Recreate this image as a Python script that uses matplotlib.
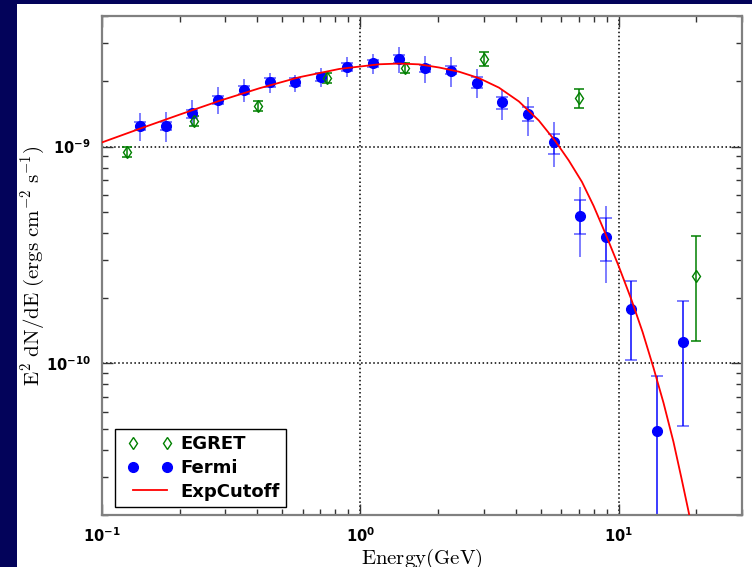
import numpy as np
import matplotlib
matplotlib.use("Agg")
import matplotlib.pyplot as plt
from matplotlib.patches import Rectangle
from matplotlib.lines import Line2D
from matplotlib.legend_handler import HandlerLine2D
from matplotlib.ticker import FuncFormatter, LogLocator, NullFormatter

# Fermi points (GeV, erg cm^-2 s^-1)
fermi_e = [0.141, 0.178, 0.224, 0.282, 0.355, 0.447, 0.562, 0.708, 0.891, 1.12, 1.41,
           1.78, 2.24, 2.82, 3.55, 4.47, 5.62, 7.08, 8.91, 11.2, 14.1, 17.8]
fermi_f = [1.244e-9, 1.244e-9, 1.422e-9, 1.640e-9, 1.824e-9, 1.977e-9, 1.990e-9, 2.099e-9,
           2.334e-9, 2.421e-9, 2.524e-9, 2.296e-9, 2.240e-9, 1.968e-9, 1.610e-9, 1.413e-9,
           1.047e-9, 4.786e-10, 3.846e-10, 1.791e-10, 4.89e-11, 1.253e-10]
stat_lo = [1.19e-9, 1.19e-9, 1.36e-9, 1.57e-9, 1.75e-9, 1.89e-9, 1.91e-9, 2.01e-9,
           2.24e-9, 2.32e-9, 2.42e-9, 2.20e-9, 2.15e-9, 1.858e-9, 1.490e-9, 1.312e-9,
           9.246e-10, 3.95e-10, 2.98e-10, 1.04e-10, 1e-11, 5.15e-11]
stat_hi = [1.30e-9, 1.30e-9, 1.48e-9, 1.71e-9, 1.90e-9, 2.06e-9, 2.08e-9, 2.19e-9,
           2.43e-9, 2.52e-9, 2.63e-9, 2.39e-9, 2.34e-9, 2.084e-9, 1.698e-9, 1.527e-9,
           1.140e-9, 5.64e-10, 4.70e-10, 2.393e-10, 8.77e-11, 1.93e-10]
tot_lo = [1.061e-9, 1.054e-9, 1.244e-9, 1.408e-9, 1.610e-9, 1.762e-9, 1.790e-9, 1.889e-9,
          2.084e-9, 2.161e-9, 2.191e-9, 1.959e-9, 1.889e-9, 1.671e-9, 1.327e-9, 1.119e-9,
          8.03e-10, 3.08e-10, 2.36e-10, 1.04e-10, 1e-11, 5.15e-11]
tot_hi = [1.432e-9, 1.449e-9, 1.640e-9, 1.889e-9, 2.043e-9, 2.176e-9, 2.138e-9, 2.296e-9,
          2.580e-9, 2.675e-9, 2.884e-9, 2.624e-9, 2.595e-9, 2.272e-9, 1.824e-9, 1.698e-9,
          1.303e-9, 6.49e-10, 5.32e-10, 2.393e-10, 8.77e-11, 1.93e-10]

# EGRET points
egret_e = [0.1253, 0.227, 0.404, 0.741, 1.49, 3.01, 7.0, 20.0]
egret_f = [9.47e-10, 1.312e-9, 1.538e-9, 2.081e-9, 2.296e-9, 2.524e-9, 1.671e-9, 2.541e-10]
egret_lo = [8.98e-10, 1.245e-9, 1.459e-9, 1.974e-9, 2.176e-9, 2.35e-9, 1.51e-9, 1.267e-10]
egret_hi = [9.98e-10, 1.383e-9, 1.621e-9, 2.193e-9, 2.42e-9, 2.73e-9, 1.836e-9, 3.85e-10]

# ExpCutoff curve
model_e = [0.1, 0.1405, 0.2005, 0.286, 0.408, 0.5821, 0.8306, 1.185, 1.415, 1.69, 2.02,
           2.412, 2.881, 3.441, 4.11, 4.909, 5.693, 6.41, 7.211, 8.002, 8.879, 9.991,
           11.21, 12.37, 13.64, 14.91, 16.29, 17.48, 18.61, 19.81]
model_f = [1.044e-9, 1.209e-9, 1.405e-9, 1.626e-9, 1.858e-9, 2.089e-9, 2.280e-9, 2.396e-9,
           2.414e-9, 2.394e-9, 2.315e-9, 2.214e-9, 2.068e-9, 1.870e-9, 1.615e-9, 1.319e-9,
           1.058e-9, 8.63e-10, 6.87e-10, 5.32e-10, 3.98e-10, 2.818e-10, 1.963e-10,
           1.398e-10, 9.54e-11, 6.58e-11, 4.35e-11, 2.97e-11, 2.093e-11, 1.459e-11]

plt.rcParams['mathtext.fontset'] = 'dejavusans'

fig = plt.figure(figsize=(7.52, 5.67), dpi=100, facecolor='white')
# dark slide border on the left and top
fig.patches.append(Rectangle((0, 0), 17 / 752, 1, transform=fig.transFigure,
                             facecolor='#03035a', edgecolor='none', zorder=-5))
fig.patches.append(Rectangle((0, 1 - 4 / 567), 1, 4 / 567, transform=fig.transFigure,
                             facecolor='#03035a', edgecolor='none', zorder=-5))
ax = fig.add_axes([101.7 / 752, 1 - 515 / 567, 640.3 / 752, 499 / 567])

fe = np.array(fermi_e)
ff = np.array(fermi_f)
ax.errorbar(fe, ff, yerr=[ff - np.array(stat_lo), np.array(stat_hi) - ff], fmt='none',
            ecolor='blue', alpha=0.55, capsize=4.3, elinewidth=1.3, capthick=1.3)
ax.errorbar(fe, ff, yerr=[ff - np.array(tot_lo), np.array(tot_hi) - ff], fmt='none',
            ecolor='blue', alpha=0.55, capsize=0, elinewidth=1.3)
ax.plot(fe, ff, 'o', color='blue', ms=7, label='Fermi', zorder=3)

ee = np.array(egret_e)
ef = np.array(egret_f)
ax.errorbar(ee, ef, yerr=[ef - np.array(egret_lo), np.array(egret_hi) - ef], fmt='none',
            ecolor='green', capsize=3.6, elinewidth=1.1, capthick=1.1)
ax.plot(ee, ef, 'd', mfc='none', mec='green', mew=1, ms=6.5, label='EGRET', zorder=3)

ax.plot(model_e, model_f, '-', color='red', lw=1.3, label='ExpCutoff', zorder=4)

ax.set_xscale('log')
ax.set_yscale('log')
ax.set_xlim(0.1, 30)
ax.set_ylim(2e-11, 4e-9)

fmt = FuncFormatter(lambda v, p: r'$\mathbf{10^{%d}}$' % int(round(np.log10(v))))
ax.xaxis.set_major_locator(LogLocator(base=10, numticks=10))
ax.yaxis.set_major_locator(LogLocator(base=10, numticks=10))
ax.xaxis.set_major_formatter(fmt)
ax.yaxis.set_major_formatter(fmt)
ax.xaxis.set_minor_formatter(NullFormatter())
ax.yaxis.set_minor_formatter(NullFormatter())

ax.tick_params(which='both', direction='in', top=True, right=True, labelsize=10.5,
               colors='#333333', labelcolor='black')
ax.tick_params(which='major', length=8, width=1, pad=8)
ax.tick_params(which='minor', length=4, width=1)
for sp in ax.spines.values():
    sp.set_color('#808080')
    sp.set_linewidth(1.6)

ax.grid(True, which='major', color='black', linestyle=':', linewidth=1.1)

ax.set_xlabel(r'$\mathrm{Energy(GeV)}$', fontsize=15, math_fontfamily='cm')
ax.set_ylabel(r'$\mathrm{E^2\ dN/dE\ (ergs\ cm^{-2}\ s^{-1})}$', fontsize=15,
              math_fontfamily='cm')
ax.xaxis.set_label_coords(0.5, -0.064)
ax.yaxis.set_label_coords(-0.086, 0.5)

h, l = ax.get_legend_handles_labels()
order = [l.index('EGRET'), l.index('Fermi'), l.index('ExpCutoff')]
leg = ax.legend([h[i] for i in order], [l[i] for i in order], loc='lower left',
                numpoints=2, fancybox=False, framealpha=1, edgecolor='black',
                prop={'size': 13, 'weight': 'bold'}, labelspacing=0.31,
                borderpad=0.36, handlelength=3.17, handletextpad=0.08,
                handler_map={Line2D: HandlerLine2D(marker_pad=0.64)},
                bbox_to_anchor=(0.021, 0.016), borderaxespad=0)
leg.get_frame().set_linewidth(1.0)

fig.savefig('out.png', dpi=100, facecolor=fig.get_facecolor())
